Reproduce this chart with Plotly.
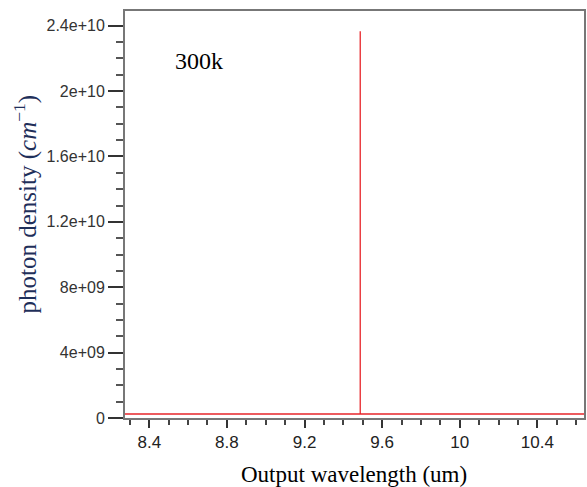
import plotly.graph_objects as go

# data
wavelength = [8.275, 9.487, 9.487, 9.487, 10.64]
density = [2.45e8, 2.45e8, 2.366e10, 2.45e8, 2.45e8]
y_tickvals = [0, 4e9, 8e9, 1.2e10, 1.6e10, 2e10, 2.4e10]
y_ticktext = ["0", "4e+09", "8e+09", "1.2e+10", "1.6e+10", "2e+10", "2.4e+10"]
x_tickvals = [8.4, 8.8, 9.2, 9.6, 10.0, 10.4]
x_ticktext = ["8.4", "8.8", "9.2", "9.6", "10", "10.4"]

L, R, T, B, W, H = 125, 1, 11, 69, 587, 487
pw, ph = W - L - R, H - T - B

fig = go.Figure()
fig.add_trace(go.Scatter(x=wavelength, y=density, mode="lines",
                         line=dict(color="#e8262b", width=1.3), showlegend=False))

fig.update_layout(
    width=W, height=H,
    margin=dict(l=L, r=R, t=T, b=B),
    paper_bgcolor="white", plot_bgcolor="white",
    annotations=[
        dict(text="300k", x=(199 - L) / pw, y=(H - B - 61) / ph, xref="paper", yref="paper",
             showarrow=False, xanchor="center", yanchor="middle",
             font=dict(family="Liberation Serif", size=24, color="black")),
        dict(text="Output wavelength (um)", x=(355 - L) / pw, y=(H - B - 474) / ph,
             xref="paper", yref="paper", showarrow=False, xanchor="center", yanchor="middle",
             font=dict(family="Liberation Serif", size=23, color="black")),
        dict(text="photon density (<i>cm</i><sup>−1</sup>)",
             x=(25 - L) / pw, y=(H - B - 204) / ph,
             xref="paper", yref="paper", showarrow=False, xanchor="center", yanchor="middle",
             textangle=-90,
             font=dict(family="Liberation Serif", size=25, color="#1f2f5a")),
    ],
)
fig.update_xaxes(
    range=[8.275, 10.64], tickvals=x_tickvals, ticktext=x_ticktext,
    ticks="outside", ticklen=8, tickwidth=2, tickcolor="#333",
    showline=True, linecolor="#777", linewidth=2, mirror=True,
    showgrid=False, zeroline=False,
    tickfont=dict(family="Liberation Sans", size=17, color="#222"),
    minor=dict(dtick=0.1, tick0=8.3, ticks="outside", ticklen=5, tickwidth=1.5, tickcolor="#444", showgrid=False),
)
fig.update_yaxes(
    range=[0, 2.49e10], tickvals=y_tickvals, ticktext=y_ticktext,
    ticks="outside", ticklen=15, tickwidth=2, tickcolor="#333",
    showline=True, linecolor="#777", linewidth=2, mirror=True,
    showgrid=False, zeroline=False,
    tickfont=dict(family="Liberation Sans", size=16, color="#333"),
    minor=dict(dtick=1e9, tick0=0, ticks="outside", ticklen=7, tickwidth=1.5, tickcolor="#555", showgrid=False),
)

fig.write_html("out.html")
